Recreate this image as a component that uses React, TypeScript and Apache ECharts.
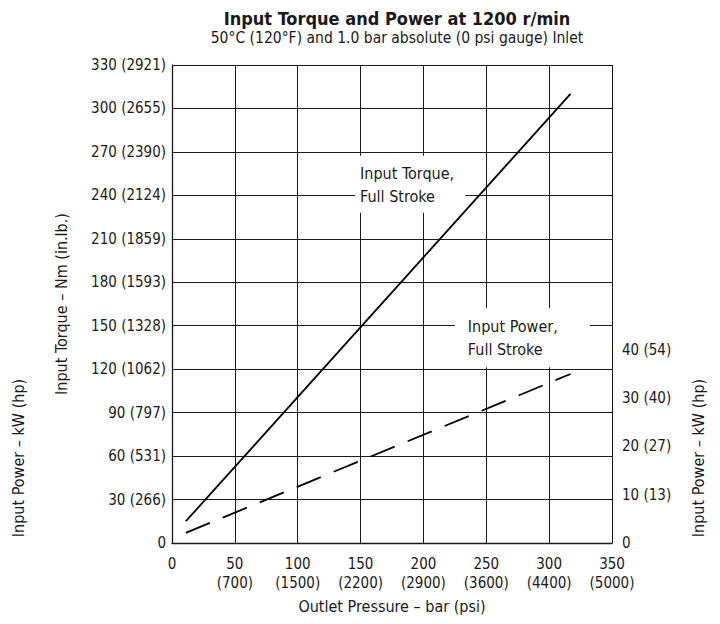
import React, { useEffect, useRef } from 'react';
import * as echarts from 'echarts';

const pressureTicks = [0, 50, 100, 150, 200, 250, 300, 350];
const psiLabels = ['', '(700)', '(1500)', '(2200)', '(2900)', '(3600)', '(4400)', '(5000)'];
const torqueTicks = [0, 30, 60, 90, 120, 150, 180, 210, 240, 270, 300, 330];
const inlbLabels = ['', '(266)', '(531)', '(797)', '(1062)', '(1328)', '(1593)', '(1859)', '(2124)', '(2390)', '(2655)', '(2921)'];
const powerTicks = [0, 10, 20, 30, 40];
const hpLabels = ['', '(13)', '(27)', '(40)', '(54)'];

const pressureBar = [11, 317];
const torqueNm = [15, 310];
const powerKw = [2.1, 35];

const torqueNote = { lines: ['Input Torque,', 'Full Stroke'], bar: 145.6, nm: 267.3 };
const powerNote = { lines: ['Input Power,', 'Full Stroke'], bar: 225, nm: 162 };

const FONT = "'Liberation Sans Narrow', 'DejaVu Sans Condensed', sans-serif";
const INK = '#1a1a1a';
const TICK = 15;

export default function App() {
  const ref = useRef<HTMLDivElement>(null);
  useEffect(() => {
    if (!ref.current) return;
    const chart = echarts.init(ref.current, null, { renderer: 'svg' });
    const option: any = {
      animation: false,
      backgroundColor: '#fff',
      textStyle: { fontFamily: FONT, color: INK },
      title: {
        text: 'Input Torque and Power at 1200 r/min',
        subtext: '50°C (120°F) and 1.0 bar absolute (0 psi gauge) Inlet',
        left: 392,
        top: 4,
        textAlign: 'center',
        itemGap: 3,
        textStyle: { fontFamily: FONT, fontWeight: 'bold', fontSize: 18, color: INK },
        subtextStyle: { fontFamily: FONT, fontSize: 15.5, color: INK },
      },
      grid: { left: 172, right: 108, top: 65, bottom: 81 },
      xAxis: {
        type: 'value',
        min: 0,
        max: 350,
        interval: 50,
        name: 'Outlet Pressure – bar (psi)',
        nameLocation: 'middle',
        nameGap: 55,
        nameTextStyle: { fontFamily: FONT, fontSize: 16, color: INK },
        axisLine: { show: true, lineStyle: { color: INK, width: 1.3 } },
        axisTick: { show: false },
        splitLine: { show: true, lineStyle: { color: INK, width: 1 } },
        axisLabel: {
          margin: 11,
          fontFamily: FONT,
          fontSize: TICK,
          color: INK,
          lineHeight: 19,
          formatter: (v: number) => {
            const i = pressureTicks.indexOf(v);
            return i <= 0 ? String(v) : `${v}\n${psiLabels[i]}`;
          },
        },
      },
      yAxis: [
        {
          type: 'value',
          min: 0,
          max: 330,
          interval: 30,
          name: 'Input Torque – Nm (in.lb.)',
          nameLocation: 'middle',
          nameGap: 103,
          nameTextStyle: { fontFamily: FONT, fontSize: 16, color: INK },
          axisLine: { show: true, lineStyle: { color: INK, width: 1.3 } },
          axisTick: { show: false },
          splitLine: { show: true, lineStyle: { color: INK, width: 1 } },
          axisLabel: {
            margin: 6,
            fontFamily: FONT,
            fontSize: TICK,
            color: INK,
            formatter: (v: number) => {
              const i = torqueTicks.indexOf(v);
              return i <= 0 ? String(v) : `${v} ${inlbLabels[i]}`;
            },
          },
        },
        {
          type: 'value',
          position: 'right',
          min: 0,
          max: 99,
          interval: 10,
          axisLine: { show: false },
          axisTick: { show: false },
          splitLine: { show: false },
          axisLabel: {
            margin: 10,
            fontFamily: FONT,
            fontSize: TICK,
            color: INK,
            formatter: (v: number) => {
              const i = powerTicks.indexOf(v);
              if (i < 0) return '';
              return i === 0 ? '0' : `${v} ${hpLabels[i]}`;
            },
          },
        },
      ],
      series: [
        {
          type: 'line',
          name: 'Input Torque',
          yAxisIndex: 0,
          z: 5,
          data: pressureBar.map((p, i) => [p, torqueNm[i]]),
          symbol: 'none',
          lineStyle: { color: '#000', width: 1.8, type: 'solid' },
        },
        {
          type: 'line',
          name: 'Input Power',
          yAxisIndex: 1,
          z: 5,
          data: pressureBar.map((p, i) => [p, powerKw[i]]),
          symbol: 'none',
          lineStyle: { color: '#000', width: 1.8, type: [26, 14] },
        },
      ],
    };
    chart.setOption(option);

    const tp = chart.convertToPixel({ xAxisIndex: 0, yAxisIndex: 0 }, [torqueNote.bar, torqueNote.nm]) as number[];
    const pp = chart.convertToPixel({ xAxisIndex: 0, yAxisIndex: 0 }, [powerNote.bar, powerNote.nm]) as number[];
    chart.setOption({
      graphic: [
        { type: 'rect', left: tp[0], top: tp[1], shape: { width: 110, height: 57 }, style: { fill: '#fff' }, z: 1 },
        {
          type: 'text', left: tp[0] + 5, top: tp[1] + 6, z: 11,
          style: { text: torqueNote.lines.join('\n'), font: `16px ${FONT}`, fill: INK, lineHeight: 23 },
        },
        { type: 'rect', left: pp[0], top: pp[1], shape: { width: 135, height: 59 }, style: { fill: '#fff' }, z: 1 },
        {
          type: 'text', left: pp[0] + 13, top: pp[1] + 7, z: 11,
          style: { text: powerNote.lines.join('\n'), font: `16px ${FONT}`, fill: INK, lineHeight: 23 },
        },
        {
          type: 'text', x: 18, y: 458, rotation: Math.PI / 2, z: 11,
          style: { text: 'Input Power – kW (hp)', font: `16px ${FONT}`, fill: INK, align: 'center', verticalAlign: 'middle' },
        },
        {
          type: 'text', x: 698, y: 458, rotation: Math.PI / 2, z: 11,
          style: { text: 'Input Power – kW (hp)', font: `16px ${FONT}`, fill: INK, align: 'center', verticalAlign: 'middle' },
        },
      ],
    });
    return () => chart.dispose();
  }, []);
  return <div ref={ref} style={{ position: 'fixed', left: 0, top: 0, width: 720, height: 624, background: '#fff' }} />;
}
